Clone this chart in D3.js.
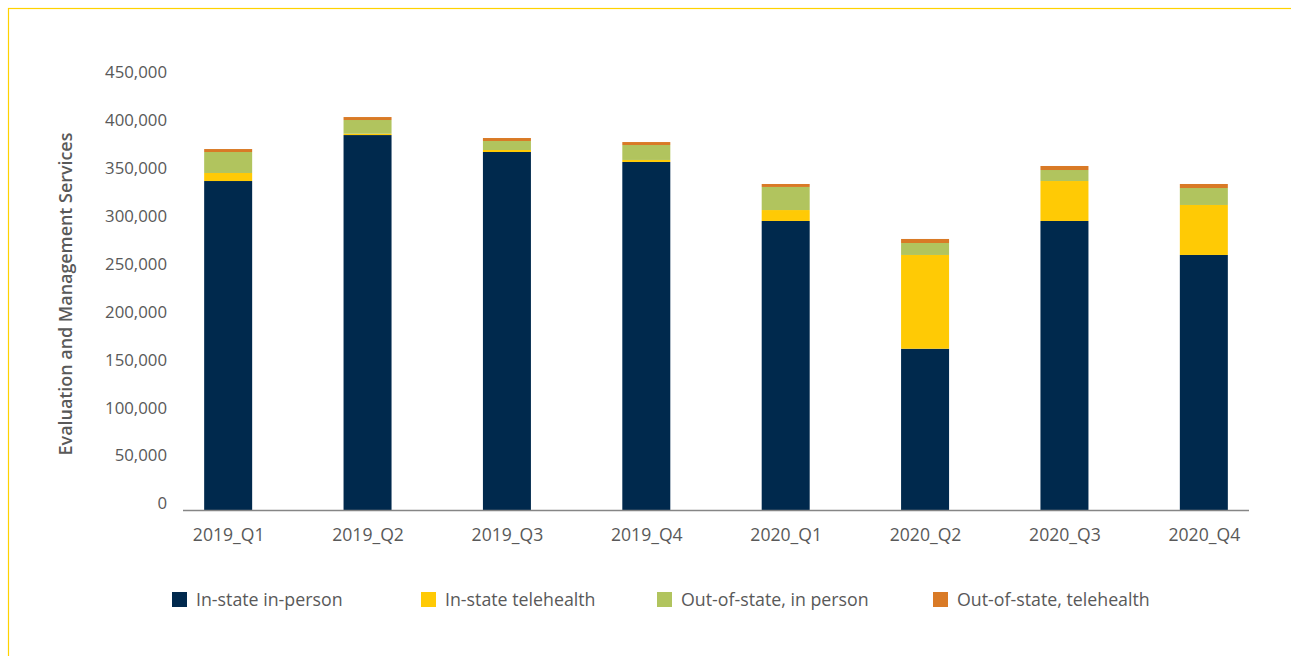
<!DOCTYPE html>
<html>
<head>
<meta charset="utf-8">
<script src="https://cdn.jsdelivr.net/npm/d3@7"></script>
<style>
  html, body { margin: 0; padding: 0; background: #fff; }
  svg { display: block; font-family: "Open Sans", "Noto Sans", sans-serif; }
</style>
</head>
<body>
<svg id="chart" width="1291" height="656"></svg>
<script>
// Quarterly evaluation & management services, split by setting
const quarters = ["2019_Q1", "2019_Q2", "2019_Q3", "2019_Q4", "2020_Q1", "2020_Q2", "2020_Q3", "2020_Q4"];
const seriesNames = ["In-state in-person", "In-state telehealth", "Out-of-state, in person", "Out-of-state, telehealth"];
const inStateInPerson   = [344000, 392000, 374300, 363900, 302300, 168900, 302300, 266800];
const inStateTelehealth = [8400, 1400, 2100, 2100, 11400, 97900, 41700, 52200];
const outStateInPerson  = [21900, 14300, 9400, 15600, 24100, 12500, 11500, 17700];
const outStateTelehealth = [3100, 3100, 3100, 3100, 3100, 4200, 4200, 4200];
const yTicks = [0, 50000, 100000, 150000, 200000, 250000, 300000, 350000, 400000, 450000];
const colors = ["#00294D", "#FFCA05", "#B1C45E", "#D97A26"];

const svg = d3.select("#chart");

// outer frame
svg.append("rect")
  .attr("x", 8.5).attr("y", 8.5)
  .attr("width", 1400).attr("height", 800)
  .attr("fill", "none").attr("stroke", "#FFD200").attr("stroke-width", 1.2);

const rows = quarters.map((q, i) => ({
  quarter: q,
  [seriesNames[0]]: inStateInPerson[i],
  [seriesNames[1]]: inStateTelehealth[i],
  [seriesNames[2]]: outStateInPerson[i],
  [seriesNames[3]]: outStateTelehealth[i]
}));
const stacked = d3.stack().keys(seriesNames)(rows);

const x = d3.scalePoint().domain(quarters).range([183, 1249]).padding(0.324);
const y = d3.scaleLinear().domain([0, 450000]).range([510.5, 79.5]);
const barW = 48;

// y tick labels
const fmt = d3.format(",");
svg.append("g").selectAll("text")
  .data(yTicks).join("text")
  .attr("x", 167)
  .attr("y", d => y(d) - 7)
  .attr("dy", "0.35em")
  .attr("text-anchor", "end")
  .attr("font-size", 16.8)
  .attr("fill", "#595959")
  .text(d => fmt(d));

// y axis title
svg.append("text")
  .attr("transform", "translate(72,294) rotate(-90)")
  .attr("text-anchor", "middle")
  .attr("font-size", 17.9)
  .attr("font-weight", 600)
  .attr("fill", "#595959")
  .text("Evaluation and Management Services");

// stacked bars
svg.append("g").selectAll("g")
  .data(stacked).join("g")
  .attr("fill", (d, i) => colors[i])
  .selectAll("rect")
  .data(d => d).join("rect")
  .attr("x", d => x(d.data.quarter) - barW / 2)
  .attr("width", barW)
  .attr("y", d => y(d[1]))
  .attr("height", d => y(d[0]) - y(d[1]));

// category axis
const xAxis = svg.append("g").attr("transform", `translate(0,${y(0)})`)
  .call(d3.axisBottom(x).tickSize(0).tickPadding(18))
  .call(g => g.select(".domain").attr("stroke", "#868686").attr("stroke-width", 1.5)
    .attr("d", "M183,0H1249"));
xAxis.selectAll("text")
  .attr("font-size", 17.6)
  .attr("font-family", "\"Open Sans\", \"Noto Sans\", sans-serif")
  .attr("fill", "#595959");

// legend
const legendX = [172, 421, 657, 933];
const legend = svg.append("g").selectAll("g")
  .data(seriesNames).join("g")
  .attr("transform", (d, i) => `translate(${legendX[i]},592)`);
legend.append("rect")
  .attr("width", 15).attr("height", 15)
  .attr("fill", (d, i) => colors[i]);
legend.append("text")
  .attr("x", 24).attr("y", 8)
  .attr("dy", "0.35em")
  .attr("font-size", 17.8)
  .attr("fill", "#595959")
  .text(d => d);
</script>
</body>
</html>
